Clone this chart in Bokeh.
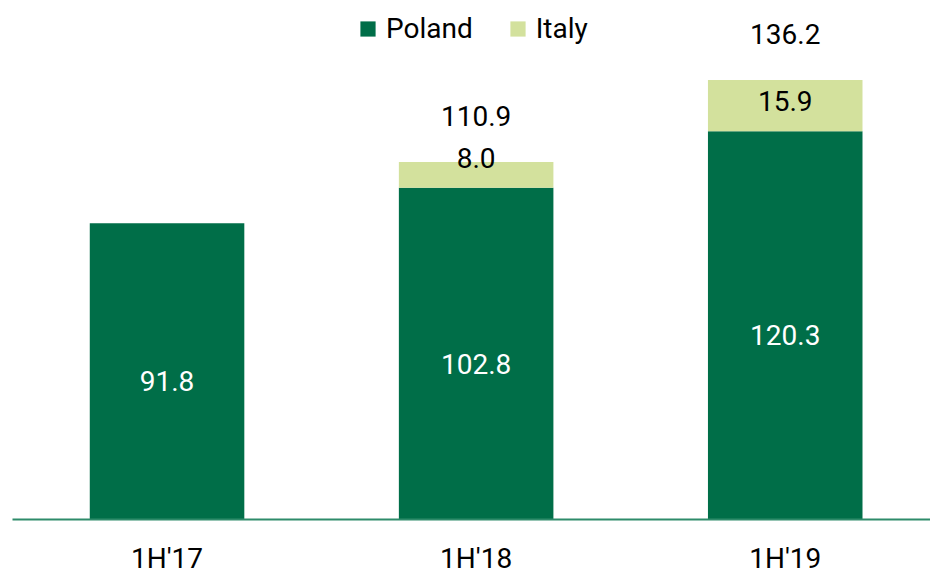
from bokeh.plotting import figure
from bokeh.models import ColumnDataSource, FixedTicker, Range1d
from bokeh.core.properties import value
from bokeh.embed import file_html
from bokeh.resources import INLINE

periods = ["1H'17", "1H'18", "1H'19"]
poland = [91.8, 102.8, 120.3]
italy = [0.0, 8.0, 15.9]
totals = [91.8, 110.9, 136.2]
poland_labels = ["91.8", "102.8", "120.3"]
italy_labels = ["", "8.0", "15.9"]
total_labels = ["", "110.9", "136.2"]

POL = "#006e48"
ITA = "#d3e19d"
AXIS = "#2e8b6a"
FONT = "Roboto"
FS = "28px"

xs = list(range(len(periods)))
src = ColumnDataSource(dict(
    x=xs, Poland=poland, Italy=italy,
    pol_mid=[v / 2 for v in poland],
    pol_top=poland,
    tot=totals,
    pl=poland_labels, il=italy_labels, tl=total_labels,
))

p = figure(width=930, height=577, x_range=Range1d(-0.5, 2.47), y_range=Range1d(0, 158.35),
           output_backend="svg", toolbar_location=None, y_axis_location=None,
           min_border_left=12, min_border_right=0, min_border_top=8, min_border_bottom=58)
p.outline_line_color = None
p.xgrid.grid_line_color = None
p.ygrid.grid_line_color = None

p.vbar_stack(["Poland", "Italy"], x="x", width=0.5, fill_color=[POL, ITA], line_color=None,
             source=src, legend_label=["Poland", "Italy"])

p.text(x="x", y="pol_mid", text="pl", source=src, text_color="white",
       text_font=value(FONT), text_font_size=FS, text_align="center",
       text_baseline="middle", y_offset=10)
p.text(x="x", y="pol_top", text="il", source=src, text_color="black",
       text_font=value(FONT), text_font_size=FS, text_align="center",
       text_baseline="middle", y_offset=-30)
p.text(x="x", y="tot", text="tl", source=src, text_color="black",
       text_font=value(FONT), text_font_size=FS, text_align="center",
       text_baseline="middle", y_offset=-46)

ax = p.xaxis[0]
ax.ticker = FixedTicker(ticks=xs)
ax.major_label_overrides = {i: s for i, s in enumerate(periods)}
ax.axis_line_color = AXIS
ax.axis_line_width = 2
ax.major_tick_line_color = None
ax.minor_tick_line_color = None
ax.major_label_text_font = FONT
ax.major_label_text_font_size = FS
ax.major_label_text_color = "black"
ax.major_label_standoff = 16

lg = p.legend[0]
lg.orientation = "horizontal"
lg.location = (346, 474)
lg.glyph_width = 19
lg.glyph_height = 19
lg.label_standoff = 9
lg.spacing = 35
lg.padding = 0
lg.margin = 0
lg.border_line_color = None
lg.background_fill_alpha = 0
lg.label_text_font = FONT
lg.label_text_font_size = FS
lg.label_text_color = "black"

open("out.html", "w").write(file_html(p, INLINE))
